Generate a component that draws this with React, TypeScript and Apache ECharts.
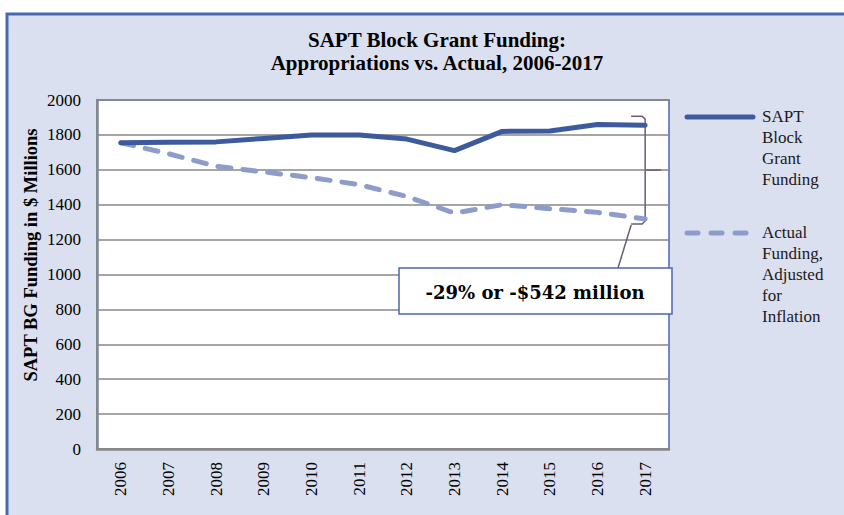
import React, { useEffect, useRef } from "react";
import * as echarts from "echarts";

const years = ["2006", "2007", "2008", "2009", "2010", "2011", "2012", "2013", "2014", "2015", "2016", "2017"];
const appropriations = [1755, 1758, 1760, 1780, 1800, 1800, 1776, 1710, 1820, 1822, 1860, 1856];
const actualAdjusted = [1755, 1692, 1620, 1588, 1555, 1515, 1447, 1352, 1400, 1377, 1356, 1318];
const seriesNames = ["SAPT Block Grant Funding", "Actual Funding, Adjusted for Inflation"];
const legendLines = [["SAPT", "Block", "Grant", "Funding"], ["Actual", "Funding,", "Adjusted", "for", "Inflation"]];
const titleLines = ["SAPT Block Grant Funding:", "Appropriations vs. Actual, 2006-2017"];
const yAxisTitle = "SAPT BG Funding in $ Millions";
const calloutText = "-29% or -$542 million";
const yMin = 0;
const yMax = 2000;
const yStep = 200;

const SERIF = "'Liberation Serif', 'Times New Roman', serif";
const SOLID = "#3e5a9f";
const DASHED = "#8d9cc9";
const FRAME = "#4a68b0";
const BRACE = "#6b5d76";

export default function App() {
  const ref = useRef<HTMLDivElement>(null);
  useEffect(() => {
    if (!ref.current) return;
    const chart = echarts.init(ref.current, null, { renderer: "svg" });
    const base: any = {
      animation: false,
      backgroundColor: "#ffffff",
      title: {
        text: titleLines.join("\n"),
        left: 432,
        textAlign: "center",
        top: 23,
        textStyle: { fontFamily: SERIF, fontWeight: "bold", fontSize: 21, lineHeight: 23, color: "#000" },
      },
      grid: {
        left: 97,
        top: 100,
        right: 175,
        bottom: 66,
        show: true,
        backgroundColor: "#ffffff",
        borderColor: FRAME,
        borderWidth: 1.5,
        containLabel: false,
      },
      xAxis: {
        type: "category",
        data: years,
        boundaryGap: true,
        axisLine: { lineStyle: { color: "#878787", width: 2.5 } },
        axisTick: { show: false },
        axisLabel: { rotate: 90, margin: 13, fontFamily: SERIF, fontSize: 17, color: "#000" },
        splitLine: { show: false },
      },
      yAxis: {
        type: "value",
        min: yMin,
        max: yMax,
        interval: yStep,
        axisLine: { show: true, lineStyle: { color: "#878787", width: 2.5 } },
        axisTick: { show: false },
        axisLabel: {
          margin: 16,
          fontFamily: SERIF,
          fontSize: 17,
          color: "#000",
          formatter: (v: number) => String(v),
        },
        splitLine: { lineStyle: { color: "#878787", width: 1.5 } },
      },
      series: [
        {
          name: seriesNames[0],
          type: "line",
          data: appropriations,
          symbol: "none",
          lineStyle: { color: SOLID, width: 5, cap: "round", join: "round" },
          z: 3,
        },
        {
          name: seriesNames[1],
          type: "line",
          data: actualAdjusted,
          symbol: "none",
          lineStyle: { color: DASHED, width: 5, type: [13, 12], cap: "round", join: "round" },
          z: 2,
        },
      ],
    };
    chart.setOption(base);

    const last = years.length - 1;
    const pTop = chart.convertToPixel({ gridIndex: 0 }, [last, appropriations[last]]) as number[];
    const pBot = chart.convertToPixel({ gridIndex: 0 }, [last, actualAdjusted[last]]) as number[];
    const bx = pTop[0];
    const by0 = pTop[1] - 9;
    const by1 = pBot[1] + 5;
    const bmid = (by0 + by1) / 2;

    const legendText = (lines: string[], y: number) => ({
      type: "text",
      left: 762,
      top: y,
      style: { text: lines.join("\n"), fontFamily: SERIF, fontSize: 17, lineHeight: 21, fill: "#1a1a1a" },
    });

    chart.setOption({
      graphic: [
        {
          type: "rect",
          z: -10,
          silent: true,
          shape: { x: 7, y: 14, width: 900, height: 600 },
          style: { fill: "#dbe0f0", stroke: FRAME, lineWidth: 3 },
        },
        {
          type: "text",
          x: 31,
          y: 255,
          rotation: Math.PI / 2,
          style: {
            text: yAxisTitle,
            fontFamily: SERIF,
            fontWeight: "bold",
            fontSize: 18.5,
            fill: "#000",
            align: "center",
            verticalAlign: "middle",
          },
        },
        {
          type: "line",
          shape: { x1: 687, y1: 117, x2: 753, y2: 117 },
          style: { stroke: SOLID, lineWidth: 5, lineCap: "round" },
        },
        {
          type: "line",
          shape: { x1: 687, y1: 233, x2: 753, y2: 233 },
          style: { stroke: DASHED, lineWidth: 5, lineCap: "round", lineDash: [11, 13] },
        },
        legendText(legendLines[0], 106),
        legendText(legendLines[1], 222),
        {
          type: "polyline",
          shape: {
            points: [
              [bx - 14, by0],
              [bx - 3, by0],
              [bx, by0 + 3],
              [bx, by1 - 3],
              [bx - 3, by1],
              [bx - 14, by1],
            ],
          },
          style: { stroke: BRACE, lineWidth: 1.5, fill: null },
        },
        {
          type: "line",
          shape: { x1: bx + 1, y1: bmid, x2: bx + 16, y2: bmid },
          style: { stroke: BRACE, lineWidth: 1.5 },
        },
        {
          type: "line",
          shape: { x1: bx - 14, y1: by1 + 1, x2: 618, y2: 268 },
          style: { stroke: BRACE, lineWidth: 1.5 },
        },
        {
          type: "rect",
          shape: { x: 399, y: 268, width: 273, height: 46 },
          style: { fill: "#ffffff", stroke: FRAME, lineWidth: 1.5 },
          z: 20,
        },
        {
          type: "text",
          x: 535,
          y: 292,
          z: 21,
          style: {
            text: calloutText,
            fontFamily: "'DejaVu Serif', serif",
            fontWeight: "bold",
            fontSize: 18,
            fill: "#000",
            align: "center",
            verticalAlign: "middle",
          },
        },
      ],
    });
    return () => chart.dispose();
  }, []);
  return <div ref={ref} style={{ position: "absolute", left: 0, top: 0, width: 844, height: 515 }} />;
}
